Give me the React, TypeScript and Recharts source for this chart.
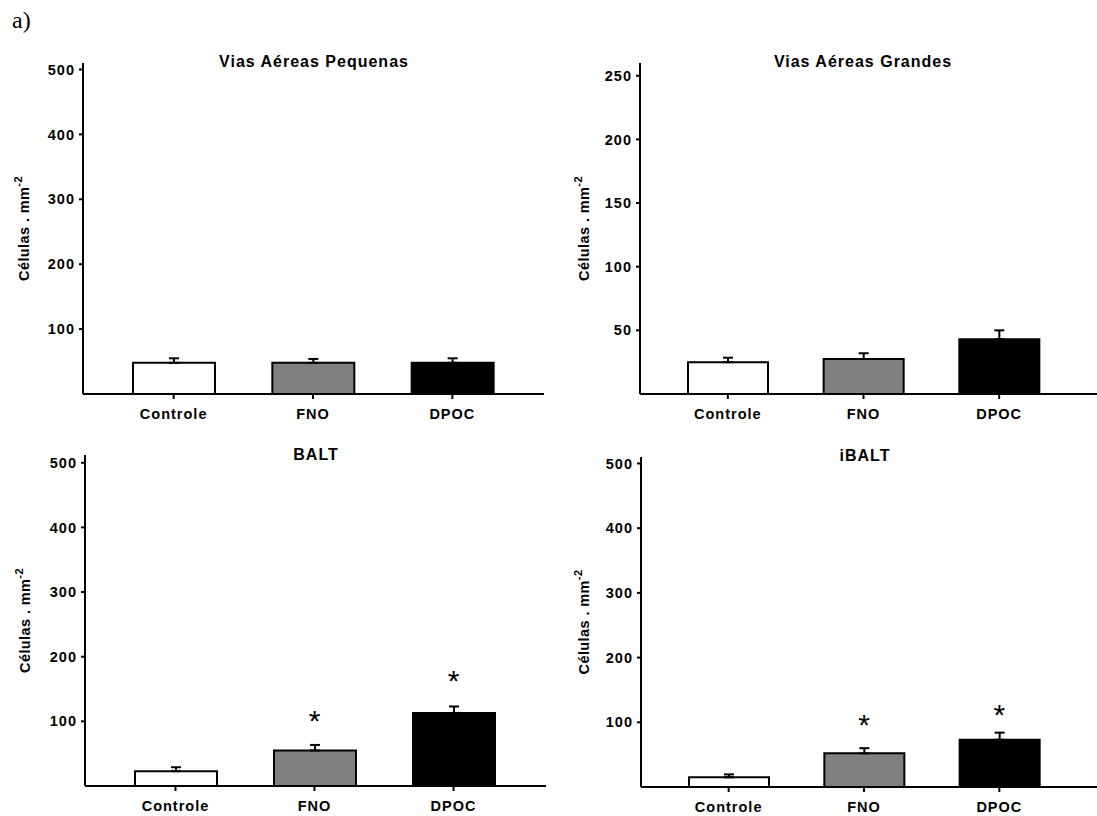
import { BarChart, Bar, XAxis, YAxis, ErrorBar, Cell, ReferenceDot } from 'recharts';

const groups = ['Controle', 'FNO', 'DPOC'];

// Vias Aéreas Pequenas
const smallMeans = [48, 48, 48];
const smallSem = [7, 6, 7];
const smallTicks = [100, 200, 300, 400, 500];

// Vias Aéreas Grandes
const largeMeans = [25, 27.5, 43];
const largeSem = [3.5, 4.5, 7];
const largeTicks = [50, 100, 150, 200, 250];

// BALT
const baltMeans = [23, 55, 113];
const baltSem = [6, 8.5, 10];
const baltStars = [null, 112, 174];
const baltTicks = [100, 200, 300, 400, 500];

// iBALT
const ibaltMeans = [15, 52, 73];
const ibaltSem = [4.5, 8, 11];
const ibaltStars = [null, 107, 122];
const ibaltTicks = [100, 200, 300, 400, 500];

const fills = ['#ffffff', '#808080', '#000000'];
const FONT = '"Liberation Sans", Arial, sans-serif';

const tickStyle = { fontSize: 14.5, fontWeight: 700, fill: '#000', fontFamily: FONT, letterSpacing: 1 };

const YLabel = ({ viewBox, gap }: any) => {
  if (!viewBox) return null;
  const x = viewBox.x + viewBox.width - gap;
  const y = viewBox.y + viewBox.height / 2;
  return (
    <text
      x={x}
      y={y}
      transform={`rotate(-90, ${x}, ${y})`}
      textAnchor="middle"
      fontFamily={FONT}
      fontWeight={700}
      fontSize={14.5}
      letterSpacing={0.4}
      fill="#000"
    >
      <tspan>Células . mm</tspan>
      <tspan dy={-7} fontSize={11}>-2</tspan>
    </text>
  );
};

const Star = (p: any) => (
  <text x={p.cx} y={p.cy + 17} textAnchor="middle" fontSize={30} fontFamily={FONT} fill="#000">
    *
  </text>
);

interface PanelProps {
  means: number[];
  sem: number[];
  stars?: (number | null)[];
  ticks: number[];
  yMax: number;
  left: number;
  top: number;
  width: number;
  height: number;
  plotLeft: number;
  plotTop: number;
  plotBottom: number;
  plotRight: number;
  padL: number;
  padR: number;
  barSize: number;
  labelGap: number;
}

function Panel(props: PanelProps) {
  const {
    means, sem, stars, ticks, yMax, left, top, width, height,
    plotLeft, plotTop, plotBottom, plotRight, padL, padR, barSize, labelGap
  } = props;
  const rows = groups.map((g, i) => ({ group: g, mean: means[i], err: [0, sem[i]] }));

  return (
    <div style={{ position: 'absolute', left, top, width, height }}>
      <BarChart
        width={width}
        height={height}
        data={rows}
        barSize={barSize}
        margin={{ top: plotTop - top, right: left + width - plotRight, bottom: 0, left: 0 }}
      >
        <XAxis
          dataKey="group"
          height={top + height - plotBottom}
          padding={{ left: padL, right: padR }}
          axisLine={{ stroke: '#000', strokeWidth: 2 }}
          tickLine={{ stroke: '#000', strokeWidth: 2 }}
          tickSize={5}
          tickMargin={10}
          tick={tickStyle}
          interval={0}
        />
        <YAxis
          width={plotLeft - left}
          type="number"
          domain={[0, yMax]}
          ticks={ticks}
          axisLine={{ stroke: '#000', strokeWidth: 2 }}
          tickLine={{ stroke: '#000', strokeWidth: 2 }}
          tickSize={4}
          tickMargin={4}
          tick={tickStyle}
          label={<YLabel gap={labelGap} />}
        />
        <Bar dataKey="mean" stroke="#000" strokeWidth={2} isAnimationActive={false}>
          {rows.map((r, i) => (
            <Cell key={r.group} fill={fills[i]} />
          ))}
          <ErrorBar dataKey="err" width={5} strokeWidth={2} stroke="#000" isAnimationActive={false} />
        </Bar>
        {stars &&
          stars.map((s, i) =>
            s == null ? null : (
              <ReferenceDot key={i} x={groups[i]} y={s} r={0} ifOverflow="visible" shape={Star} />
            )
          )}
      </BarChart>
    </div>
  );
}

export default function App() {
  const titleStyle = { fontFamily: FONT, fontWeight: 700, fontSize: 16, letterSpacing: 1, fill: '#000' };
  return (
    <div style={{ position: 'absolute', left: 0, top: 0, width: 1097, height: 816, background: '#fff' }}>
      <Panel
        means={smallMeans} sem={smallSem} ticks={smallTicks} yMax={510}
        left={0} top={0} width={548} height={430}
        plotLeft={83} plotTop={63} plotBottom={394} plotRight={544}
        padL={21} padR={22} barSize={82} labelGap={54}
      />
      <Panel
        means={largeMeans} sem={largeSem} ticks={largeTicks} yMax={260}
        left={548} top={0} width={549} height={430}
        plotLeft={640} plotTop={63} plotBottom={394} plotRight={1097}
        padL={20} padR={30} barSize={80} labelGap={51}
      />
      <Panel
        means={baltMeans} sem={baltSem} stars={baltStars} ticks={baltTicks} yMax={512}
        left={0} top={430} width={548} height={386}
        plotLeft={85} plotTop={455} plotBottom={786} plotRight={546}
        padL={21} padR={23} barSize={82} labelGap={55}
      />
      <Panel
        means={ibaltMeans} sem={ibaltSem} stars={ibaltStars} ticks={ibaltTicks} yMax={510}
        left={548} top={430} width={549} height={386}
        plotLeft={641} plotTop={457} plotBottom={787} plotRight={1097}
        padL={20} padR={30} barSize={80} labelGap={52}
      />
      <svg width={1097} height={816} style={{ position: 'absolute', left: 0, top: 0, pointerEvents: 'none' }}>
        <text x={12} y={28} fontFamily='"Liberation Serif", "Times New Roman", serif' fontSize={24} fill="#000">
          a)
        </text>
        <text x={314} y={67} textAnchor="middle" {...titleStyle}>Vias Aéreas Pequenas</text>
        <text x={863} y={67} textAnchor="middle" {...titleStyle}>Vias Aéreas Grandes</text>
        <text x={316} y={460} textAnchor="middle" {...titleStyle}>BALT</text>
        <text x={865} y={461} textAnchor="middle" {...titleStyle}>iBALT</text>
      </svg>
    </div>
  );
}
